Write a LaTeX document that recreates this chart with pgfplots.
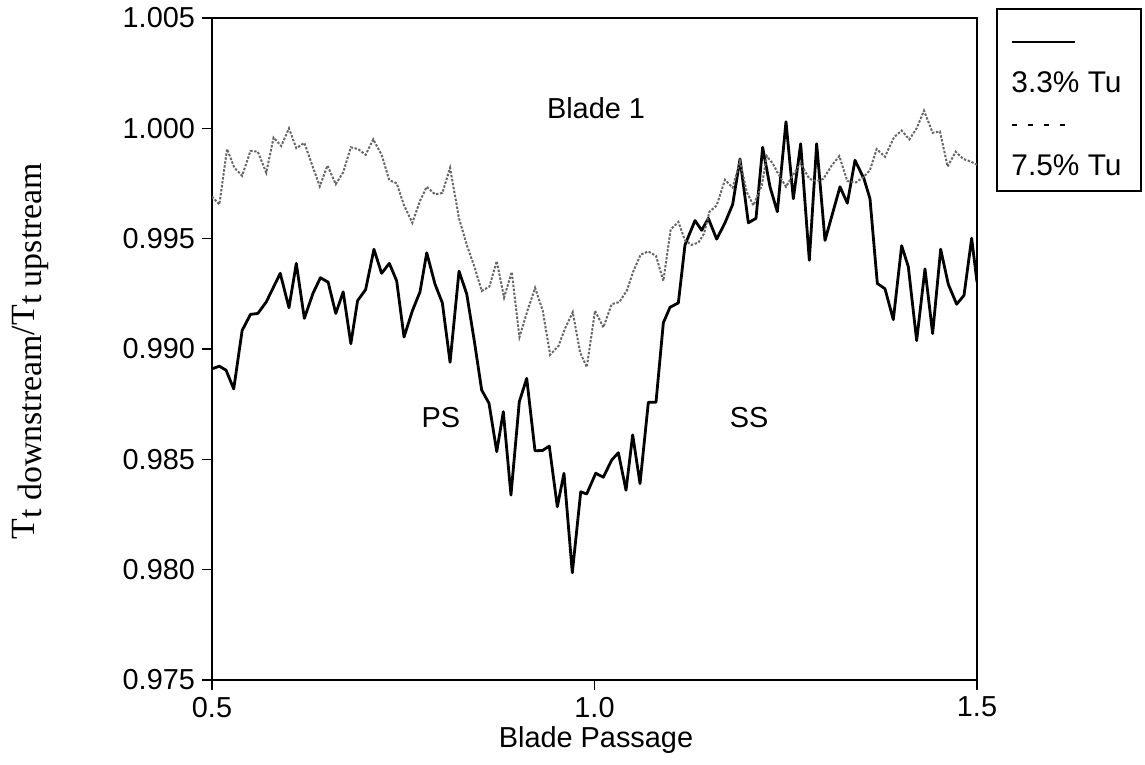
\documentclass[border=0pt]{standalone}
\usepackage{fontspec}
\setmainfont{Liberation Sans}
\newfontfamily\timesfont{Liberation Serif}
\usepackage{pgfplots}
\pgfplotsset{compat=1.18}
\begin{document}
\begin{tikzpicture}
\path[use as bounding box] (0,0) rectangle (572.5bp,-382.5bp);
\begin{axis}[
  at={(106bp,-340bp)}, anchor=south west,
  scale only axis, width=382.5bp, height=331bp,
  xmin=0.5, xmax=1.5, ymin=0.975, ymax=1.005,
  xtick={0.5,1.0,1.5},
  ytick={0.975,0.980,0.985,0.990,0.995,1.000,1.005},
  tick align=outside, xtick pos=bottom, ytick pos=left,
  major tick length=5bp,
  xticklabel style={/pgf/number format/.cd, fixed, fixed zerofill, precision=1},
  yticklabel style={/pgf/number format/.cd, fixed, fixed zerofill, precision=3},
  /pgf/number format/assume math mode=true,
  tick label style={font=\fontsize{14.5}{16}\selectfont},
  axis line style={line width=0.8bp},
  tick style={line width=0.8bp, black},
]
% 3.3% Tu (solid)
\addplot[black, line width=1.4bp, line join=round] coordinates {
(0.500,0.98910) (0.5096,0.98922) (0.5184,0.98904) (0.5284,0.98819) (0.5394,0.99084)
(0.5503,0.99157) (0.5599,0.99161) (0.5709,0.99213) (0.5892,0.99343) (0.6006,0.99187)
(0.6102,0.99388) (0.6207,0.99139) (0.6321,0.99253) (0.6417,0.99323) (0.6518,0.99303)
(0.6618,0.99161) (0.6715,0.99259) (0.6815,0.99024) (0.6903,0.99219) (0.7008,0.99269)
(0.7117,0.99452) (0.7217,0.99343) (0.7318,0.99388) (0.7414,0.99309) (0.7510,0.99054)
(0.7619,0.99173) (0.7719,0.99259) (0.7807,0.99436) (0.7916,0.99293) (0.8011,0.99209)
(0.8112,0.98940) (0.8229,0.99353) (0.8330,0.99249) (0.8430,0.99034) (0.8525,0.98814)
(0.8621,0.98754) (0.8722,0.98535) (0.8808,0.98716) (0.8908,0.98338) (0.9017,0.98761)
(0.9114,0.98867) (0.9222,0.98539) (0.9320,0.98540) (0.9409,0.98560) (0.9514,0.98285)
(0.9601,0.98437) (0.9710,0.97986) (0.9820,0.98353) (0.9898,0.98343) (1.0016,0.98437)
(1.0115,0.98419) (1.0225,0.98497) (1.0312,0.98530) (1.0412,0.98360) (1.0499,0.98611)
(1.0595,0.98390) (1.0704,0.98759) (1.0804,0.98759) (1.0900,0.99119) (1.0987,0.99189)
(1.1096,0.99209) (1.1183,0.99472) (1.1314,0.99582) (1.1401,0.99538) (1.1488,0.99592)
(1.1597,0.99498) (1.1706,0.99572) (1.1806,0.99655) (1.1902,0.99861) (1.2011,0.99572)
(1.2111,0.99592) (1.2198,0.99914) (1.2294,0.99735) (1.2390,0.99622) (1.2503,1.00030)
(1.2599,0.99681) (1.2695,0.99930) (1.2808,0.99402) (1.2904,0.99930) (1.3013,0.99492)
(1.3209,0.99735) (1.3305,0.99661) (1.3405,0.99855) (1.3523,0.99771) (1.3601,0.99681)
(1.3697,0.99297) (1.3797,0.99273) (1.3906,0.99133) (1.4015,0.99468) (1.4102,0.99373)
(1.4211,0.99038) (1.4320,0.99363) (1.4420,0.99070) (1.4525,0.99452) (1.4625,0.99293)
(1.4734,0.99203) (1.4830,0.99243) (1.4930,0.99502) (1.5000,0.99303)
};
% 7.5% Tu (dotted)
\addplot[black!60, line width=1bp, dash pattern=on 1.2bp off 0.8bp] coordinates {
(0.500,0.99691) (0.5096,0.99655) (0.5197,0.99906) (0.5293,0.99821) (0.5394,0.99785)
(0.5503,0.99898) (0.5599,0.99894) (0.5709,0.99799) (0.5805,0.99958) (0.5905,0.99920)
(0.6006,1.00000) (0.6102,0.99910) (0.6207,0.99934) (0.6312,0.99831) (0.6409,0.99737)
(0.6509,0.99831) (0.6618,0.99747) (0.6715,0.99801) (0.6815,0.99914) (0.6911,0.99906)
(0.7008,0.99880) (0.7108,0.99950) (0.7217,0.99880) (0.7318,0.99765) (0.7414,0.99751)
(0.7510,0.99651) (0.7619,0.99572) (0.7719,0.99671) (0.7807,0.99735) (0.7916,0.99701)
(0.8011,0.99707) (0.8112,0.99821) (0.8229,0.99592) (0.8330,0.99472) (0.8430,0.99373)
(0.8526,0.99263) (0.8626,0.99283) (0.8722,0.99398) (0.8818,0.99233) (0.8918,0.99349)
(0.9019,0.99054) (0.9123,0.99173) (0.9224,0.99277) (0.9324,0.99173) (0.9420,0.98974)
(0.9529,0.99014) (0.9616,0.99094) (0.9716,0.99167) (0.9812,0.98984) (0.9899,0.98918)
(1.0007,0.99173) (1.0116,0.99098) (1.0224,0.99203) (1.0325,0.99213) (1.0421,0.99263)
(1.0508,0.99353) (1.0604,0.99428) (1.0704,0.99442) (1.0804,0.99422) (1.0900,0.99309)
(1.0996,0.99542) (1.1096,0.99576) (1.1183,0.99492) (1.1270,0.99472) (1.1357,0.99482)
(1.1431,0.99522) (1.1501,0.99621) (1.1597,0.99651) (1.1706,0.99767) (1.1806,0.99731)
(1.1902,0.99851) (1.1990,0.99711) (1.2077,0.99651) (1.2187,0.99741) (1.2252,0.99874)
(1.2330,0.99841) (1.2390,0.99801) (1.2503,0.99735) (1.2599,0.99791) (1.2695,0.99841)
(1.2808,0.99771) (1.2904,0.99761) (1.2991,0.99771) (1.3100,0.99831) (1.3200,0.99874)
(1.3305,0.99761) (1.3418,0.99755) (1.3523,0.99781) (1.3601,0.99811) (1.3688,0.99906)
(1.3797,0.99871) (1.3915,0.99960) (1.4015,0.99990) (1.4115,0.99950) (1.4211,1.00000)
(1.4307,1.00080) (1.4420,0.99980) (1.4516,0.99986) (1.4616,0.99827) (1.4721,0.99894)
(1.4821,0.99861) (1.4908,0.99851) (1.5000,0.99835)
};
\node[font=\fontsize{14.5}{16}\selectfont] at (axis cs:1.002,1.0009) {Blade 1};
\node[font=\fontsize{14.5}{16}\selectfont] at (axis cs:0.7993,0.9869) {PS};
\node[font=\fontsize{14.5}{16}\selectfont] at (axis cs:1.2020,0.9869) {SS};
\end{axis}
% x label
\node[font=\fontsize{14.5}{16}\selectfont] at (298bp,-370bp) {Blade Passage};
% y label
\node[rotate=90, font=\fontsize{17}{19}\timesfont] at (15bp,-175.5bp)
  {T\raisebox{-3.5bp}{t downstream}/T\raisebox{-3.5bp}{t upstream}};
% legend
\draw[line width=0.8bp] (498.5bp,-4.5bp) rectangle (570.5bp,-95.5bp);
\draw[line width=1.2bp] (506bp,-21bp) -- (537.5bp,-21bp);
\node[anchor=west, inner sep=0pt, font=\fontsize{15}{17}\selectfont] at (505.5bp,-41bp) {3.3\% Tu};
\draw[line width=1bp, dash pattern=on 2.5bp off 5.5bp] (506bp,-62.5bp) -- (537.5bp,-62.5bp);
\node[anchor=west, inner sep=0pt, font=\fontsize{15}{17}\selectfont] at (505.5bp,-82.5bp) {7.5\% Tu};
\end{tikzpicture}
\end{document}
